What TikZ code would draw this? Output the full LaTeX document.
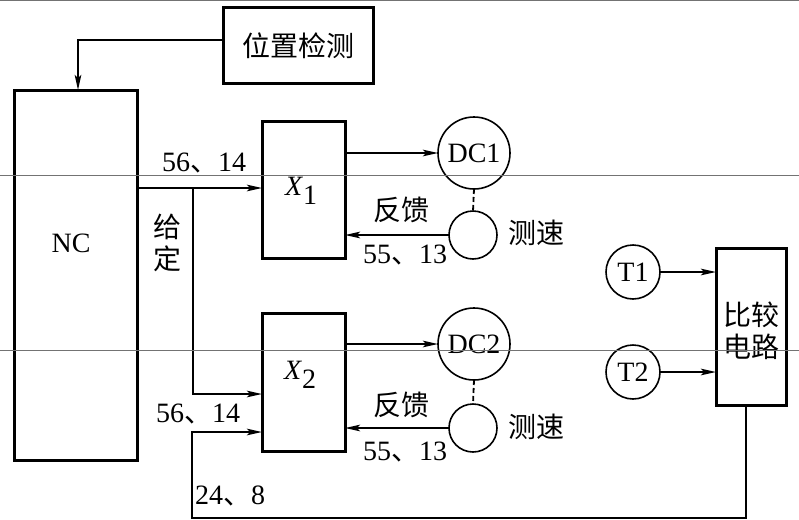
\documentclass[tikz,border=0pt]{standalone}
\usepackage{fontspec}
\setmainfont{Liberation Serif}
\newfontfamily\cjk{Noto Sans CJK SC}
\usetikzlibrary{arrows.meta}
\begin{document}
\begin{tikzpicture}[x=1pt,y=-1pt,
  every node/.style={inner sep=0pt, outer sep=0pt},
  blk/.style={draw, line width=3pt, rectangle},
  circ/.style={draw, line width=1.6pt, circle},
  conn/.style={line width=2pt},
  arr/.style={conn, -{Stealth[length=15pt,width=6.5pt,inset=3pt]}},
  lat/.style={font=\fontsize{28}{30}\selectfont},
  zh/.style={font=\cjk\fontsize{28}{30}\selectfont},
  scanline/.style={draw=black!55, line width=1pt}]
\useasboundingbox (0,0) rectangle (799,519);
\fill[white] (0,0) rectangle (799,519);
% boxes
\node[blk, minimum width=150pt, minimum height=76pt, zh] (pos) at (298,45.5) {位置检测};
\node[blk, minimum width=123pt, minimum height=370pt] (nc) at (75.5,275) {};
\node[lat] (nctxt) at (71,243) {NC};
\node[blk, minimum width=83pt, minimum height=137pt] (x1) at (303.5,189.5) {};
\node[lat] (x1txt) at (301,191) {\textit{X}\raisebox{-0.3em}{1}};
\node[blk, minimum width=83pt, minimum height=138pt] (x2) at (303.5,382) {};
\node[lat] (x2txt) at (300,375) {\textit{X}\raisebox{-0.3em}{2}};
\node[blk, minimum width=70pt, minimum height=157pt] (comp) at (751,326.5) {};
\node[zh, align=center, font=\cjk\fontsize{28}{32}\selectfont] (comptxt) at (751,331) {比较\\电路};
% circles
\node[circ, minimum size=72pt, lat] (dc1) at (474,153) {DC1};
\node[circ, minimum size=48pt] (ta1) at (473,235) {};
\node[circ, minimum size=72pt, lat] (dc2) at (474,344) {DC2};
\node[circ, minimum size=48pt] (ta2) at (473,428) {};
\node[circ, minimum size=54pt, lat] (t1) at (633,272) {T1};
\node[circ, minimum size=54pt, lat] (t2) at (633,372) {T2};
% connectors
\draw[arr] ([yshift=5.5pt]pos.west) -| ([xshift=2.5pt]nc.north);
\draw[arr] (nc.east |- 0,188) -- (x1.west |- 0,188);
\coordinate (br) at (193,188);
\draw[arr] (br) |- (x2.west |- 0,394);
\coordinate (lb) at (192,518);
\draw[arr] (comp.south -| 746,0) |- (lb) |- (x2.west |- 0,432);
\draw[arr] (x1.east |- dc1) -- (dc1.west);
\draw[arr] (x2.east |- dc2) -- (dc2.west);
\draw[arr] (ta1.west) -- (x1.east |- ta1.west);
\draw[arr] (ta2.west) -- (x2.east |- ta2.west);
\draw[conn, line width=1.8pt, dash pattern=on 5pt off 3pt] (dc1.south) -- (ta1.north);
\draw[conn, line width=1.8pt, dash pattern=on 5pt off 3pt] (dc2.south) -- (ta2.north);
\draw[arr] (t1.east) -- (comp.west |- t1.east);
\draw[arr] (t2.east) -- (comp.west |- t2.east);
% labels
\node[lat] (l1) at (204,163) {56{\cjk 、}14};
\node[lat] (l2) at (198,414) {56{\cjk 、}14};
\node[lat] (l3) at (230,496) {24{\cjk 、}8};
\node[lat] (l4) at (405,255) {55{\cjk 、}13};
\node[lat] (l5) at (405,452) {55{\cjk 、}13};
\node[zh] (f1) at (401,210) {反馈};
\node[zh] (f2) at (401,405) {反馈};
\node[zh] (s1) at (536,233) {测速};
\node[zh] (s2) at (536,427) {测速};
\node[zh] (g1) at (167,227) {给};
\node[zh] (g2) at (167,259) {定};
% scan lines
\draw[scanline] (0,1) -- (799,1);
\draw[scanline] (0,175) -- (799,175);
\draw[scanline] (0,350) -- (799,350);
\end{tikzpicture}
\end{document}
